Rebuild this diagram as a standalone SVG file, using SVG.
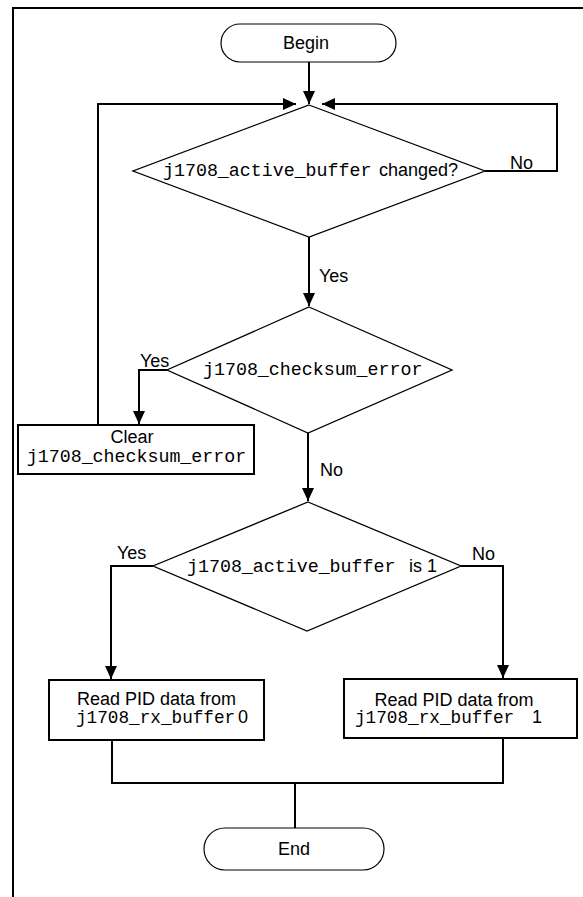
<svg xmlns="http://www.w3.org/2000/svg" width="583" height="897" viewBox="0 0 583 897">
<style>
.frame{fill:none;stroke:#000;stroke-width:2}
.term{fill:#fff;stroke:#000;stroke-width:1.2}
.dia{fill:#fff;stroke:#000;stroke-width:1.3}
.box{fill:#fff;stroke:#000;stroke-width:2}
.conn{fill:none;stroke:#000;stroke-width:2}
.sans{font-family:"Liberation Sans",Arial,sans-serif;font-size:18px;fill:#000}
.mono{font-family:"Liberation Mono","Courier New",monospace;font-size:18.3px;fill:#000}
.mid{text-anchor:middle}
</style>
<defs>
<marker id="arr" markerUnits="userSpaceOnUse" markerWidth="13" markerHeight="12" refX="13" refY="6" orient="auto">
<path d="M0,0 L13,6 L0,12 z" fill="#000"/>
</marker>
</defs>
<path class="frame" d="M13,897 V8 H583"/>
<g id="connectors">
<path class="conn" d="M309,62 V104" marker-end="url(#arr)"/>
<path class="conn" d="M98,425 V104 H296" marker-end="url(#arr)"/>
<path class="conn" d="M485,171 H557 V104 H322" marker-end="url(#arr)"/>
<path class="conn" d="M309,237 V306" marker-end="url(#arr)"/>
<path class="conn" d="M167,370 H139 V424" marker-end="url(#arr)"/>
<path class="conn" d="M308,433 V501" marker-end="url(#arr)"/>
<path class="conn" d="M153,566 H111 V679" marker-end="url(#arr)"/>
<path class="conn" d="M461,566 H503 V678" marker-end="url(#arr)"/>
<path class="conn" d="M112,740 V783 H503 V738"/>
<path class="conn" d="M295,783 V828"/>
<text class="sans" x="510" y="169">No</text>
<text class="sans" x="319" y="282">Yes</text>
<text class="sans" x="140" y="367">Yes</text>
<text class="sans" x="320" y="476">No</text>
<text class="sans" x="117" y="559">Yes</text>
<text class="sans" x="472" y="560">No</text>
</g>
<g id="begin">
<rect class="term" x="221" y="24" width="175" height="38" rx="19" ry="19"/>
<text class="sans mid" x="306" y="49">Begin</text>
</g>
<g id="decision-changed">
<polygon class="dia" points="309,105 485,171 309,237 133,171"/>
<text y="176"><tspan class="mono" x="163">j1708_active_buffer</tspan><tspan class="sans" x="379">changed?</tspan></text>
</g>
<g id="decision-checksum">
<polygon class="dia" points="309,307 452,370 308,433 167,370"/>
<text class="mono" x="203" y="375">j1708_checksum_error</text>
</g>
<g id="clear-box">
<rect class="box" x="18" y="425" width="236" height="49"/>
<text class="sans mid" x="132" y="443">Clear</text>
<text class="mono mid" x="136.5" y="462">j1708_checksum_error</text>
</g>
<g id="decision-buffer">
<polygon class="dia" points="308,502 461,566 307,631 153,566"/>
<text y="572"><tspan class="mono" x="187">j1708_active_buffer</tspan><tspan class="sans" x="409">is 1</tspan></text>
</g>
<g id="read-0">
<rect class="box" x="49" y="680" width="215" height="60"/>
<text class="sans mid" x="156.5" y="705">Read PID data from</text>
<text y="723"><tspan class="mono" x="76" style="font-size:17.7px">j1708_rx_buffer</tspan><tspan class="sans" x="238">0</tspan></text>
</g>
<g id="read-1">
<rect class="box" x="344" y="679" width="233" height="59"/>
<text class="sans mid" x="454" y="706">Read PID data from</text>
<text y="723"><tspan class="mono" x="355" style="font-size:17.7px">j1708_rx_buffer</tspan><tspan class="sans" x="532">1</tspan></text>
</g>
<g id="end">
<rect class="term" x="204" y="828" width="180" height="42" rx="21" ry="21"/>
<text class="sans mid" x="294" y="855">End</text>
</g>
</svg>
